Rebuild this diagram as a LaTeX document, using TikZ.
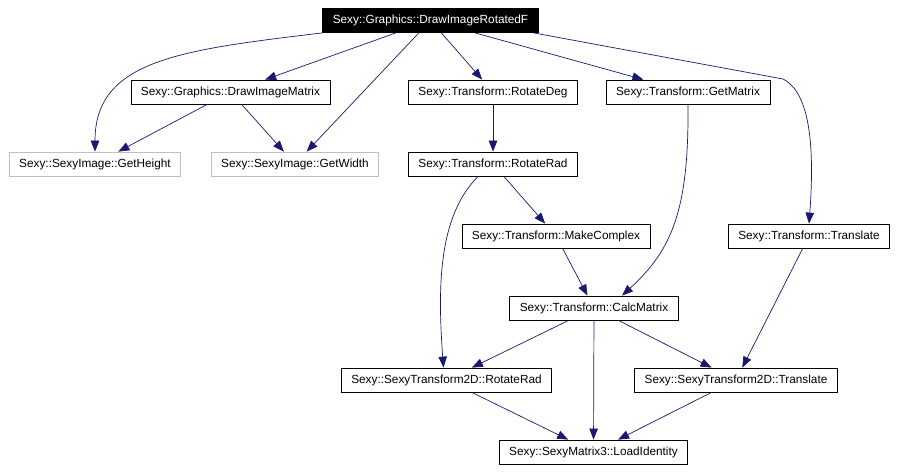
\documentclass[tikz,border=0pt]{standalone}
\usepackage{fontspec}
\setmainfont{Liberation Sans}
\usetikzlibrary{arrows.meta}
\definecolor{bleunuit}{RGB}{25,25,112}
\definecolor{grisclair}{RGB}{191,191,191}
\begin{document}
\begin{tikzpicture}[x=1pt,y=-1pt]
			% Styles (MODIFIABLES)
			\tikzstyle{fleche}=[-{Triangle[length=11pt,width=8.5pt]},bleunuit,line width=0.7pt]
			\tikzstyle{noeud}=[draw,line width=0.8pt,minimum height=24pt,inner xsep=10pt,font=\fontsize{11.8}{13}\selectfont]
			\tikzstyle{racine}=[noeud,fill=black,text=white]
			\tikzstyle{feuille}=[noeud,draw=grisclair]
			% Cadre
			\useasboundingbox (0,0) rectangle (899,471);
			% Noeuds
			\node[racine] (R) at (430.5,20.5) {Sexy::Graphics::DrawImageRotatedF};
			\node[noeud] (DIM) at (230.5,92) {Sexy::Graphics::DrawImageMatrix};
			\node[noeud] (RDeg) at (493,92) {Sexy::Transform::RotateDeg};
			\node[noeud] (GMat) at (688,92) {Sexy::Transform::GetMatrix};
			\node[feuille] (GH) at (95,164) {Sexy::SexyImage::GetHeight};
			\node[feuille] (GW) at (295,164) {Sexy::SexyImage::GetWidth};
			\node[noeud] (RRad) at (493,164) {Sexy::Transform::RotateRad};
			\node[noeud] (MC) at (556,236) {Sexy::Transform::MakeComplex};
			\node[noeud] (Tr) at (809,236) {Sexy::Transform::Translate};
			\node[noeud] (CM) at (594,308) {Sexy::Transform::CalcMatrix};
			\node[noeud] (SRRad) at (446.5,380) {Sexy::SexyTransform2D::RotateRad};
			\node[noeud] (STr) at (736,380) {Sexy::SexyTransform2D::Translate};
			\node[noeud] (LI) at (593.5,452) {Sexy::SexyMatrix3::LoadIdentity};
			% Arcs
			\draw[fleche] (R.south west) .. controls (180,50) and (95,60) .. (GH.north);
			\draw[fleche] (R)--(DIM);
			\draw[fleche] (R)--(GW);
			\draw[fleche] (R)--(RDeg);
			\draw[fleche] (R)--(GMat);
			\draw[fleche] ([xshift=-5pt]R.south east) -- (783,79) .. controls (805,90) and (816,130) .. (Tr.north);
			\draw[fleche] (DIM)--(GH);
			\draw[fleche] (DIM)--(GW);
			\draw[fleche] (RDeg)--(RRad);
			\draw[fleche] (RRad)--(MC);
			\draw[fleche] ([xshift=-15pt]RRad.south) .. controls (440,215) and (437,280) .. ([xshift=-3pt]SRRad.north);
			\draw[fleche] (GMat.south) .. controls (689,210) and (672,250) .. ([xshift=28pt]CM.north);
			\draw[fleche] (MC)--(CM);
			\draw[fleche] (Tr)--(STr);
			\draw[fleche] (CM)--(SRRad);
			\draw[fleche] (CM)--(LI);
			\draw[fleche] (CM)--(STr);
			\draw[fleche] (SRRad)--(LI);
			\draw[fleche] (STr)--(LI);
\end{tikzpicture}
\end{document}
